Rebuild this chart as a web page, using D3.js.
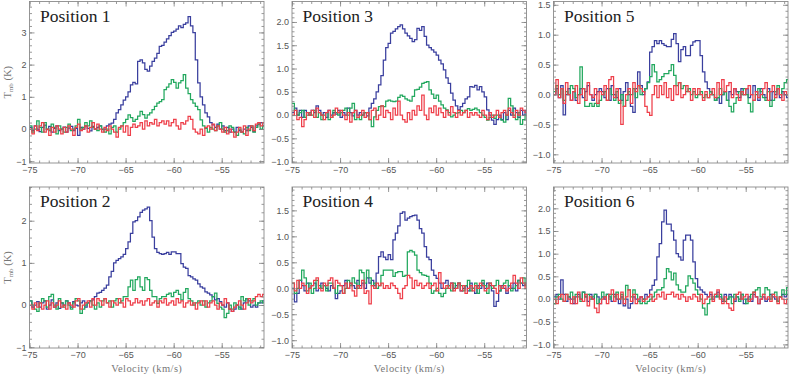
<!DOCTYPE html>
<html><head><meta charset="utf-8">
<script src="https://cdn.jsdelivr.net/npm/d3@7"></script>
<style>body{margin:0;background:#fff}svg{display:block}</style>
</head><body>
<svg id="c" width="789" height="374"></svg>
<script>
// ---- data: channel velocities start at -75 km/s, 0.25 km/s channels ----
const velocityStart = -75;
const channelWidth = 0.25;
const panelTitles = ["Position 1","Position 2","Position 3","Position 4","Position 5","Position 6"];
const xTickValues = [-75,-70,-65,-60,-55];
const xAxisTitle = "Velocity (km/s)";

const pos1Blue = [
0.05,-0.05,0.1,0.0, -0.08,0.05,0.12,-0.02, 0.08,-0.1,0.02,0.1, -0.05,0.0,0.06,-0.1, 0.03,0.08,-0.05,0.02,
-0.2,0.05,0.0,0.1, 0.02,-0.06,0.08,0.0, 0.05,0.1,-0.02,0.0, 0.1,0.15,0.18,0.3, 0.5,0.6,0.75,0.9,
1.0,1.15,1.37,1.45, 1.4,2.1,2.15,2.05, 1.85,1.8,1.95,2.1, 2.2,2.35,2.57,2.6, 2.7,2.8,2.9,3.0,
3.04,3.1,3.2,3.15, 3.25,3.3,3.49,3.2, 2.99,2.15,1.43,1.0, 0.75,0.5,0.38,0.2, 0.13,0.05,0.15,0.0,
0.1,-0.05,0.05,-0.1, 0.0,-0.1,0.05,-0.05, -0.1,0.0,-0.05,0.1, 0.05,-0.08,0.1,0.15, 0.2,0.1,0.15,0.1];
const pos1Green = [
0.1,-0.1,0.0,0.25, 0.05,-0.1,0.2,0.0, -0.05,0.15,0.05,-0.15, 0.1,0.0,-0.1,0.05, 0.15,-0.05,0.0,0.1,
0.3,0.0,0.05,0.2, 0.1,0.25,0.05,0.0, -0.05,0.1,0.0,-0.1, 0.0,-0.15,0.05,0.1, -0.1,0.0,0.1,0.2,
0.3,0.44,0.35,0.24, 0.3,0.4,0.55,0.45, 0.34,0.44,0.5,0.6, 0.7,0.8,0.85,0.91, 1.22,1.3,1.4,1.53,
1.45,1.27,1.43,1.5, 1.69,1.27,1.1,0.91, 0.8,0.7,0.6,0.28, 0.1,0.02,-0.1,0.05, 0.0,-0.05,0.1,0.2,
0.0,-0.1,-0.05,0.1, 0.05,-0.1,-0.2,0.0, -0.1,-0.15,0.05,-0.05, 0.1,-0.1,0.05,0.15, 0.0,0.1,0.05,0.1];
const pos1Red = [
0.0,-0.15,0.1,-0.05, 0.1,0.2,-0.1,0.0, -0.2,0.05,-0.1,0.1, 0.0,-0.15,0.05,-0.1, 0.1,0.0,-0.2,0.05,
0.15,-0.05,0.0,0.1, -0.1,0.05,0.2,0.0, 0.15,0.0,-0.1,0.05, -0.05,0.1,0.0,-0.1, -0.25,0.05,0.1,-0.1,
0.1,-0.2,0.05,0.15, 0.05,0.1,0.2,0.0, 0.25,0.1,0.2,0.15, 0.3,0.1,0.2,0.25, 0.15,0.25,0.1,0.2,
0.3,0.1,0.0,0.2, 0.15,0.25,0.39,0.3, 0.0,-0.1,-0.15,0.0, -0.2,0.05,0.1,0.0, 0.15,-0.05,0.1,0.0,
-0.1,0.05,-0.15,0.0, -0.1,-0.25,-0.1,0.05, -0.1,0.1,-0.2,0.0, 0.1,-0.05,0.15,0.2, 0.1,0.2,0.15,0.1];

const pos2Blue = [
0.1,-0.05,0.0,0.08, -0.05,0.05,0.1,-0.1, 0.0,0.12,-0.05,0.05, -0.08,0.05,0.0,0.1, 0.05,-0.05,0.08,0.0,
-0.02,0.05,0.1,-0.05, 0.05,0.1,0.12,0.2, 0.28,0.3,0.35,0.4, 0.47,0.67,0.8,1.0, 1.06,1.1,1.14,1.2,
1.34,1.5,1.7,1.97, 2.0,2.09,2.2,2.25, 2.28,2.32,2.0,1.61, 1.34,1.25,1.22,1.2, 1.22,1.25,1.2,1.26,
1.26,1.22,1.22,0.98, 0.9,0.87,0.7,0.67, 0.62,0.59,0.5,0.43, 0.4,0.31,0.28,0.24, 0.2,0.12,0.15,0.08,
0.0,-0.05,0.05,-0.1, -0.15,-0.1,0.0,-0.05, -0.1,0.05,0.15,0.1, -0.05,0.0,-0.05,0.05, 0.05,0.1,0.0,0.05];
const pos2Green = [
0.1,0.0,-0.1,-0.15, 0.05,0.15,0.1,-0.05, 0.2,0.25,0.0,-0.1, 0.15,0.05,-0.05,0.1, 0.0,-0.1,0.05,0.15,
0.1,-0.2,-0.1,0.0, 0.05,0.1,0.0,-0.1, 0.05,-0.05,0.1,0.15, 0.05,0.1,-0.05,0.1, 0.15,0.05,0.1,0.2,
0.2,0.43,0.59,0.35, 0.6,0.67,0.43,0.35, 0.65,0.6,0.35,0.2, 0.2,0.04,0.15,0.2, 0.2,0.25,0.28,0.2,
0.3,0.35,0.25,0.12, 0.3,0.39,0.15,0.1, 0.0,0.05,0.1,0.0, 0.1,-0.05,0.05,0.1, 0.2,0.28,0.04,-0.05,
-0.1,-0.3,-0.2,0.0, -0.1,0.05,0.0,-0.1, 0.2,0.1,0.15,0.0, 0.1,0.15,0.0,0.05, 0.1,0.05,0.0,0.1];
const pos2Red = [
0.0,-0.1,0.05,-0.05, 0.05,-0.1,0.0,0.1, -0.1,0.05,-0.05,0.0, 0.1,-0.05,0.0,-0.1, 0.05,0.0,-0.05,0.1,
0.15,-0.1,0.0,0.05, 0.1,-0.05,0.15,0.0, 0.15,0.1,0.0,0.15, 0.05,-0.05,0.1,0.05, 0.0,0.15,0.05,-0.05,
0.15,0.1,0.0,0.05, 0.15,0.05,0.1,0.0, 0.1,0.15,0.0,0.05, 0.1,-0.05,0.1,0.05, 0.15,0.0,0.05,0.1,
0.0,0.15,0.05,0.1, -0.05,0.05,0.1,0.0, 0.05,-0.1,0.05,0.1, 0.0,0.1,-0.05,0.05, 0.1,0.0,-0.1,0.05,
0.0,0.15,0.05,-0.1, -0.15,-0.05,0.0,0.1, 0.0,-0.1,0.05,0.15, 0.05,0.1,0.2,0.25, 0.2,0.25,0.2,0.15];

const pos3Blue = [
0.05,0.15,0.0,0.1, -0.05,0.1,0.05,0.0, 0.1,0.05,0.2,0.1, 0.0,0.05,-0.05,0.1, 0.0,0.05,0.02,0.1,
-0.05,0.05,0.0,0.15, 0.05,-0.02,0.1,0.0, 0.05,0.0,0.05,-0.02, 0.15,0.25,0.35,0.5, 0.65,0.85,1.18,1.45,
1.54,1.76,1.8,1.85, 1.9,1.94,1.85,1.76, 1.7,1.65,1.58,1.62, 1.86,1.82,1.9,1.69, 1.5,1.45,1.4,1.35,
1.29,1.18,1.1,0.97, 0.8,0.68,0.47,0.32, 0.2,0.11,0.18,0.25, 0.35,0.39,0.61,0.6, 0.64,0.54,0.61,0.5,
0.39,0.11,0.0,-0.11, -0.2,-0.1,0.0,-0.1, 0.05,-0.1,0.1,0.0, 0.15,0.05,-0.05,0.1, 0.0,0.1,0.05,0.0];
const pos3Green = [
0.25,0.1,0.0,0.05, 0.1,-0.05,0.0,0.05, 0.0,0.1,-0.05,0.05, -0.1,0.0,0.05,-0.1, -0.05,0.1,0.05,0.0,
0.05,0.1,0.15,0.0, 0.15,0.25,-0.1,-0.05, -0.1,0.0,0.05,0.05, -0.1,-0.25,-0.04,0.1, 0.18,0.2,0.18,0.3,
0.32,0.3,0.29,0.3, 0.38,0.43,0.4,0.35, 0.32,0.3,0.4,0.54, 0.55,0.6,0.68,0.7, 0.72,0.54,0.45,0.36,
0.43,0.3,0.22,0.15, 0.11,0.05,-0.04,0.0, 0.04,0.05,0.1,0.05, 0.1,0.14,0.1,0.12, 0.15,0.11,0.05,0.0,
-0.05,-0.11,-0.05,0.0, -0.07,0.0,-0.05,-0.11, -0.15,0.0,0.36,0.2, 0.0,-0.1,0.05,-0.2, -0.1,0.0,0.05,0.0];
const pos3Red = [
0.0,0.1,-0.1,-0.05, -0.25,-0.1,0.05,0.0, 0.1,-0.05,0.15,0.05, 0.0,-0.1,0.05,0.1, -0.05,0.0,0.15,0.05,
0.1,0.0,-0.1,0.05, -0.15,0.05,0.1,-0.05, 0.0,0.1,-0.05,0.05, -0.1,0.1,0.15,-0.1, 0.0,0.2,-0.05,0.1,
0.05,-0.1,0.15,0.0, 0.3,0.0,-0.1,-0.15, 0.05,-0.1,0.1,0.0, 0.2,0.1,0.43,0.0, -0.1,0.15,0.05,0.2,
0.0,0.15,0.05,-0.05, 0.1,0.0,0.18,0.05, -0.05,0.1,0.0,0.05, 0.1,-0.05,0.05,0.0, 0.05,0.0,-0.05,0.1,
0.0,-0.1,0.05,-0.05, 0.0,0.1,-0.05,0.05, 0.1,0.0,0.15,0.05, -0.05,0.1,0.0,0.15, 0.1,0.05,0.0,0.1];

const pos4Blue = [
0.0,-0.26,-0.1,0.15, 0.05,-0.05,0.1,0.0, 0.05,0.1,-0.05,0.0, 0.1,0.05,0.0,-0.05, 0.05,0.0,-0.2,-0.1,
-0.05,0.05,0.15,0.0, 0.1,0.05,0.0,0.15, 0.05,0.1,0.0,0.2, 0.1,0.15,0.05,0.29, 0.61,0.7,0.6,0.55,
0.65,0.55,0.93,1.06, 1.2,1.44,1.47,1.31, 1.35,1.38,1.4,1.41, 1.31,1.15,1.06,0.8, 0.6,0.55,0.35,0.25,
0.19,0.1,0.0,0.1, 0.15,0.05,0.1,0.0, 0.05,0.1,-0.05,0.0, 0.05,-0.05,0.1,0.0, -0.1,0.05,0.0,0.1,
0.0,0.1,0.05,-0.05, -0.35,-0.25,-0.05,0.05, 0.0,-0.1,0.05,0.0, 0.1,-0.05,0.15,0.1, 0.05,0.1,0.0,0.05];
const pos4Green = [
0.1,-0.1,0.0,0.15, 0.35,0.2,-0.05,0.1, -0.1,0.0,0.15,0.05, 0.0,0.05,-0.05,0.1, 0.1,0.0,-0.1,0.05,
0.05,-0.1,0.0,0.15, 0.05,0.2,0.1,0.0, 0.35,0.3,0.1,0.35, 0.2,0.05,0.1,0.0, 0.05,0.25,0.35,0.35,
0.35,0.35,0.23,0.3, 0.32,0.32,0.23,0.25, 0.7,0.73,0.7,0.64, 0.35,0.3,0.26,0.25, 0.23,0.1,-0.1,-0.05,
0.0,-0.1,-0.16,-0.1, 0.0,0.05,-0.05,0.1, 0.0,0.1,0.05,-0.05, 0.05,0.15,-0.05,0.0, 0.1,-0.1,0.05,0.15,
0.05,-0.1,0.1,0.0, 0.05,0.15,-0.05,0.0, 0.1,0.15,0.05,-0.05, 0.0,0.05,0.15,0.1, 0.2,0.05,0.1,0.15];
const pos4Red = [
0.1,-0.05,0.15,0.0, 0.1,0.05,-0.1,0.0, 0.05,0.15,0.2,0.0, -0.05,0.1,0.05,0.15, 0.2,0.0,0.15,0.1,
0.05,-0.1,0.1,0.0, 0.1,-0.05,-0.15,0.05, 0.0,0.15,-0.1,-0.05, -0.3,0.05,0.0,0.1, 0.05,0.1,0.0,0.05,
0.0,0.1,0.05,0.0, -0.1,-0.2,0.0,0.05, 0.25,0.2,0.0,0.15, 0.05,0.1,0.0,0.05, 0.1,0.0,0.05,0.1,
-0.05,0.3,0.1,0.0, 0.05,0.0,0.1,-0.05, 0.0,0.1,-0.05,0.05, -0.1,0.0,0.05,-0.05, 0.05,0.0,0.1,0.05,
-0.05,0.0,0.1,0.05, 0.0,-0.1,0.05,0.0, 0.05,-0.05,0.0,0.1, 0.25,0.1,0.0,0.2, 0.1,0.0,0.1,0.05];

const pos5Blue = [
0.0,0.1,-0.05,0.15, -0.34,0.0,0.1,-0.1, 0.05,-0.1,0.0,0.1, -0.05,0.05,0.15,0.0, -0.1,0.0,0.05,0.1,
0.05,-0.05,0.1,-0.1, 0.15,0.0,-0.05,0.1, -0.1,0.05,0.2,0.0, -0.2,-0.3,0.1,0.38, 0.15,0.0,0.1,0.21,
0.71,0.8,0.9,0.85, 0.9,0.85,0.82,0.8, 0.8,0.92,1.02,0.85, 0.55,0.75,0.8,0.65, 0.65,0.82,0.88,0.9,
0.9,0.65,0.38,0.21, 0.1,0.05,0.0,-0.1, -0.05,-0.15,0.0,0.05, -0.1,0.05,0.0,0.1, 0.05,-0.05,0.1,0.0,
0.1,-0.05,0.0,0.15, 0.05,-0.1,0.1,0.0, -0.05,0.1,-0.1,0.05, 0.0,0.1,-0.05,0.05, 0.0,-0.05,0.05,0.0];
const pos5Green = [
0.05,0.15,0.0,0.1, -0.1,0.05,0.0,0.15, 0.1,-0.05,0.0,0.46, 0.1,-0.2,-0.2,-0.15, -0.2,-0.15,-0.2,-0.1,
0.0,0.05,-0.1,0.1, 0.0,-0.1,0.05,-0.15, 0.0,-0.2,-0.1,0.05, 0.0,0.1,-0.05,0.15, 0.0,0.05,0.1,0.2,
0.3,0.5,0.38,0.21, 0.25,0.3,0.35,0.35, 0.4,0.5,0.32,0.15, 0.2,0.1,0.15,0.05, 0.1,0.0,0.05,-0.05,
0.0,0.05,-0.05,0.0, -0.05,0.05,0.0,-0.1, -0.05,0.1,0.0,0.05, -0.1,-0.2,-0.29,-0.15, -0.05,0.05,0.0,0.1,
0.0,-0.15,-0.29,-0.1, 0.0,0.1,0.05,-0.05, -0.1,0.05,-0.2,-0.1, 0.05,0.15,0.0,0.1, 0.2,0.25,0.1,0.2];
const pos5Red = [
0.0,0.25,-0.05,0.1, -0.15,0.2,0.0,-0.1, 0.05,0.15,-0.15,0.0, 0.1,-0.1,0.2,0.0, -0.05,0.1,-0.15,0.05,
0.0,0.15,-0.1,0.25, 0.3,-0.05,0.1,-0.1, -0.5,-0.2,0.0,0.1, -0.15,0.2,0.05,0.15, 0.1,0.05,-0.2,-0.3,
-0.35,0.0,0.15,-0.05, 0.15,0.0,0.2,-0.05, 0.1,-0.1,0.15,0.0, 0.2,-0.05,0.0,0.15, 0.05,-0.1,0.1,0.0,
0.1,0.0,-0.1,0.05, -0.05,0.0,0.1,-0.05, 0.2,0.0,0.25,0.05, 0.15,0.2,-0.05,0.1, 0.0,-0.1,0.05,0.0,
0.1,0.15,0.0,-0.1, 0.05,-0.05,0.0,0.1, 0.2,-0.1,0.05,0.15, -0.05,0.1,0.0,-0.1, 0.05,0.0,-0.05,0.05];

const pos6Blue = [
0.05,0.1,0.0,0.42, 0.1,-0.05,0.05,0.0, -0.1,0.05,0.1,0.0, 0.15,0.05,-0.05,0.1, 0.0,0.1,0.05,-0.1,
0.05,0.0,0.1,0.05, -0.05,0.1,0.0,-0.1, 0.05,-0.15,0.0,-0.2, -0.1,0.05,0.0,-0.05, 0.05,0.0,0.1,0.05,
0.2,0.3,0.42,0.93, 1.22,1.7,1.96,1.65, 1.65,1.5,1.3,1.0, 0.93,0.86,1.3,1.41, 1.41,1.3,0.82,0.45,
0.26,0.2,0.15,0.1, 0.05,0.1,0.0,0.05, 0.15,0.05,-0.05,0.1, 0.0,0.1,0.05,-0.05, 0.05,0.0,0.1,-0.1,
0.0,0.05,-0.05,0.1, 0.05,-0.1,0.0,0.05, -0.05,0.0,0.1,0.05, 0.0,-0.05,0.05,0.1, 0.05,0.1,0.0,0.05];
const pos6Green = [
-0.1,0.05,0.1,0.0, -0.05,0.1,0.05,0.15, 0.0,0.1,0.05,-0.05, 0.15,0.05,0.1,0.0, 0.05,0.1,-0.1,0.0,
0.15,0.05,0.1,0.0, 0.1,0.05,0.15,0.0, 0.1,0.0,0.3,0.2, 0.05,0.2,0.1,-0.05, -0.1,0.0,-0.1,-0.05,
0.0,0.05,0.15,0.2, 0.2,0.25,0.45,0.67, 0.6,0.42,0.57,0.31, 0.2,0.15,0.15,0.29, 0.51,0.45,0.35,0.2,
0.1,0.0,-0.2,-0.35, -0.1,0.0,0.05,0.1, 0.05,0.1,0.0,-0.05, 0.0,0.05,-0.1,0.1, 0.05,-0.05,0.1,0.0,
-0.1,0.0,0.1,0.15, 0.2,0.25,0.05,0.1, 0.25,0.2,0.0,0.1, 0.15,-0.05,0.05,0.2, 0.1,0.25,0.15,0.1];
const pos6Red = [
0.0,-0.1,0.05,0.1, -0.05,0.1,0.0,-0.1, 0.05,-0.1,0.15,0.0, -0.05,0.1,-0.15,0.05, 0.0,-0.2,-0.3,-0.1,
0.0,0.05,-0.1,0.1, 0.2,-0.05,0.1,0.0, 0.15,-0.1,0.05,0.2, -0.05,0.1,-0.1,0.0, 0.05,-0.05,0.0,0.05,
0.1,-0.05,0.0,0.1, 0.05,0.15,0.0,0.1, 0.1,0.15,0.05,0.1, 0.0,0.1,0.05,-0.05, 0.05,0.0,0.1,0.05,
-0.05,0.1,-0.1,0.0, 0.05,0.15,-0.05,0.1, 0.2,0.0,-0.1,0.05, -0.1,-0.2,-0.25,0.0, 0.1,0.15,0.0,0.05,
0.1,-0.05,0.0,0.15, 0.05,-0.1,0.0,0.1, 0.0,0.05,-0.05,0.1, 0.05,-0.1,0.05,0.0, -0.1,0.0,0.05,0.1];

const yTicks1 = [-1,0,1,2,3];
const yTicks2 = [-1,0,1,2];
const yTicksHalf = [-1.0,-0.5,0.0,0.5,1.0,1.5,2.0];
const yTicks5 = [-1.0,-0.5,0.0,0.5,1.0,1.5];

// ---- layout / style ----
const colLeft = [29.5, 292, 553.5];
const plotW = 234.5;
const rowTop = [1.5, 187];
const rowH = [161.5, 161];
const xDomain = [-75, -50.6];
const colors = {blue:"#3a3f9e", green:"#22a85e", red:"#ee3f4a"};

const panels = [
  {title:panelTitles[0], row:0, col:0, series:[pos1Blue,pos1Green,pos1Red], yDomain:[-1.056,3.96], ticks:yTicks1, minor:0.2, fmt:d3.format("d")},
  {title:panelTitles[1], row:1, col:0, series:[pos2Blue,pos2Green,pos2Red], yDomain:[-1.02,2.8], ticks:yTicks2, minor:0.2, fmt:d3.format("d")},
  {title:panelTitles[2], row:0, col:1, series:[pos3Blue,pos3Green,pos3Red], yDomain:[-1.03,2.44], ticks:yTicksHalf, minor:0.1, fmt:d3.format(".1f")},
  {title:panelTitles[3], row:1, col:1, series:[pos4Blue,pos4Green,pos4Red], yDomain:[-1.15,1.95], ticks:yTicks5, minor:0.1, fmt:d3.format(".1f")},
  {title:panelTitles[4], row:0, col:2, series:[pos5Blue,pos5Green,pos5Red], yDomain:[-1.145,1.555], ticks:yTicks5, minor:0.1, fmt:d3.format(".1f")},
  {title:panelTitles[5], row:1, col:2, series:[pos6Blue,pos6Green,pos6Red], yDomain:[-1.08,2.47], ticks:yTicksHalf, minor:0.1, fmt:d3.format(".1f")}
];
const seriesColors = [colors.blue, colors.green, colors.red];

const svg = d3.select("#c");
svg.append("rect").attr("width",789).attr("height",374).attr("fill","#fff");

const tickColor = "#808080";
const labelFont = "Liberation Sans, Arial, sans-serif";

function styleAxis(sel, showText){
  sel.select(".domain").remove();
  sel.selectAll(".tick line").attr("stroke", tickColor).attr("stroke-width", 0.8);
  sel.selectAll(".tick text").attr("fill", "#555").attr("font-size", 9).attr("font-family", labelFont);
  if(!showText) sel.selectAll(".tick text").remove();
}

panels.forEach((p, pi) => {
  const x0 = colLeft[p.col], y0 = rowTop[p.row], h = rowH[p.row];
  const g = svg.append("g").attr("transform", `translate(${x0},${y0})`);
  const x = d3.scaleLinear().domain(xDomain).range([0, plotW]);
  const y = d3.scaleLinear().domain(p.yDomain).range([h, 0]);

  const clipId = "clip" + pi;
  g.append("clipPath").attr("id", clipId).append("rect").attr("width", plotW).attr("height", h);

  const line = d3.line()
    .x((d, i) => x(velocityStart + i * channelWidth))
    .y(d => y(d))
    .curve(d3.curveStepAfter);

  const lg = g.append("g").attr("clip-path", `url(#${clipId})`);
  p.series.forEach((s, si) => {
    lg.append("path").datum(s.concat([s[s.length-1]]))
      .attr("d", line).attr("fill", "none")
      .attr("stroke", seriesColors[si]).attr("stroke-width", 1.25)
      .attr("stroke-linejoin", "miter");
  });

  // minor ticks
  const xMinor = d3.range(-75, -50.5, 1);
  const yStart = Math.ceil(p.yDomain[0] / p.minor - 1e-9);
  const yEnd = Math.floor(p.yDomain[1] / p.minor + 1e-9);
  const yMinor = d3.range(yStart, yEnd + 1).map(k => +(k * p.minor).toFixed(3));

  g.append("g").attr("transform", `translate(0,${h})`)
    .call(d3.axisBottom(x).tickValues(xMinor).tickSize(-2.5).tickFormat(""))
    .call(s => styleAxis(s, false));
  g.append("g")
    .call(d3.axisTop(x).tickValues(xMinor).tickSize(-2.5).tickFormat(""))
    .call(s => styleAxis(s, false));
  g.append("g")
    .call(d3.axisLeft(y).tickValues(yMinor).tickSize(-2.5).tickFormat(""))
    .call(s => styleAxis(s, false));
  g.append("g").attr("transform", `translate(${plotW},0)`)
    .call(d3.axisRight(y).tickValues(yMinor).tickSize(-2.5).tickFormat(""))
    .call(s => styleAxis(s, false));

  // major ticks
  g.append("g").attr("transform", `translate(0,${h})`)
    .call(d3.axisBottom(x).tickValues(xTickValues).tickSize(-5).tickPadding(4).tickFormat(d3.format("d")))
    .call(s => styleAxis(s, true));
  g.append("g")
    .call(d3.axisTop(x).tickValues(xTickValues).tickSize(-5).tickFormat(""))
    .call(s => styleAxis(s, false));
  g.append("g")
    .call(d3.axisLeft(y).tickValues(p.ticks).tickSize(-5).tickPadding(3).tickFormat(p.fmt))
    .call(s => styleAxis(s, true));
  g.append("g").attr("transform", `translate(${plotW},0)`)
    .call(d3.axisRight(y).tickValues(p.ticks).tickSize(-5).tickFormat(""))
    .call(s => styleAxis(s, false));

  g.append("rect").attr("width", plotW).attr("height", h)
    .attr("fill", "none").attr("stroke", "#8a8a8a").attr("stroke-width", 0.9);

  g.append("text").attr("x", 10.5).attr("y", 20)
    .attr("font-family", "Liberation Serif, Times New Roman, serif")
    .attr("font-size", 17.5).attr("fill", "#222").text(p.title);

  if (p.row === 1) {
    g.append("text").attr("x", plotW / 2).attr("y", h + 23.5)
      .attr("text-anchor", "middle")
      .attr("font-family", "Liberation Serif, Times New Roman, serif")
      .attr("font-size", 10.5).attr("letter-spacing", 0.4).attr("fill", "#777")
      .text(xAxisTitle);
  }
  if (p.col === 0) {
    const t = svg.append("text")
      .attr("transform", `translate(${10.5},${y0 + h / 2}) rotate(-90)`)
      .attr("text-anchor", "middle")
      .attr("font-family", "Liberation Serif, Times New Roman, serif")
      .attr("font-size", 10.5).attr("fill", "#777");
    t.append("tspan").text("T");
    t.append("tspan").attr("font-size", 7).attr("dy", 2.5).text("mb");
    t.append("tspan").attr("dy", -2.5).text(" (K)");
  }
});
</script>
</body></html>
